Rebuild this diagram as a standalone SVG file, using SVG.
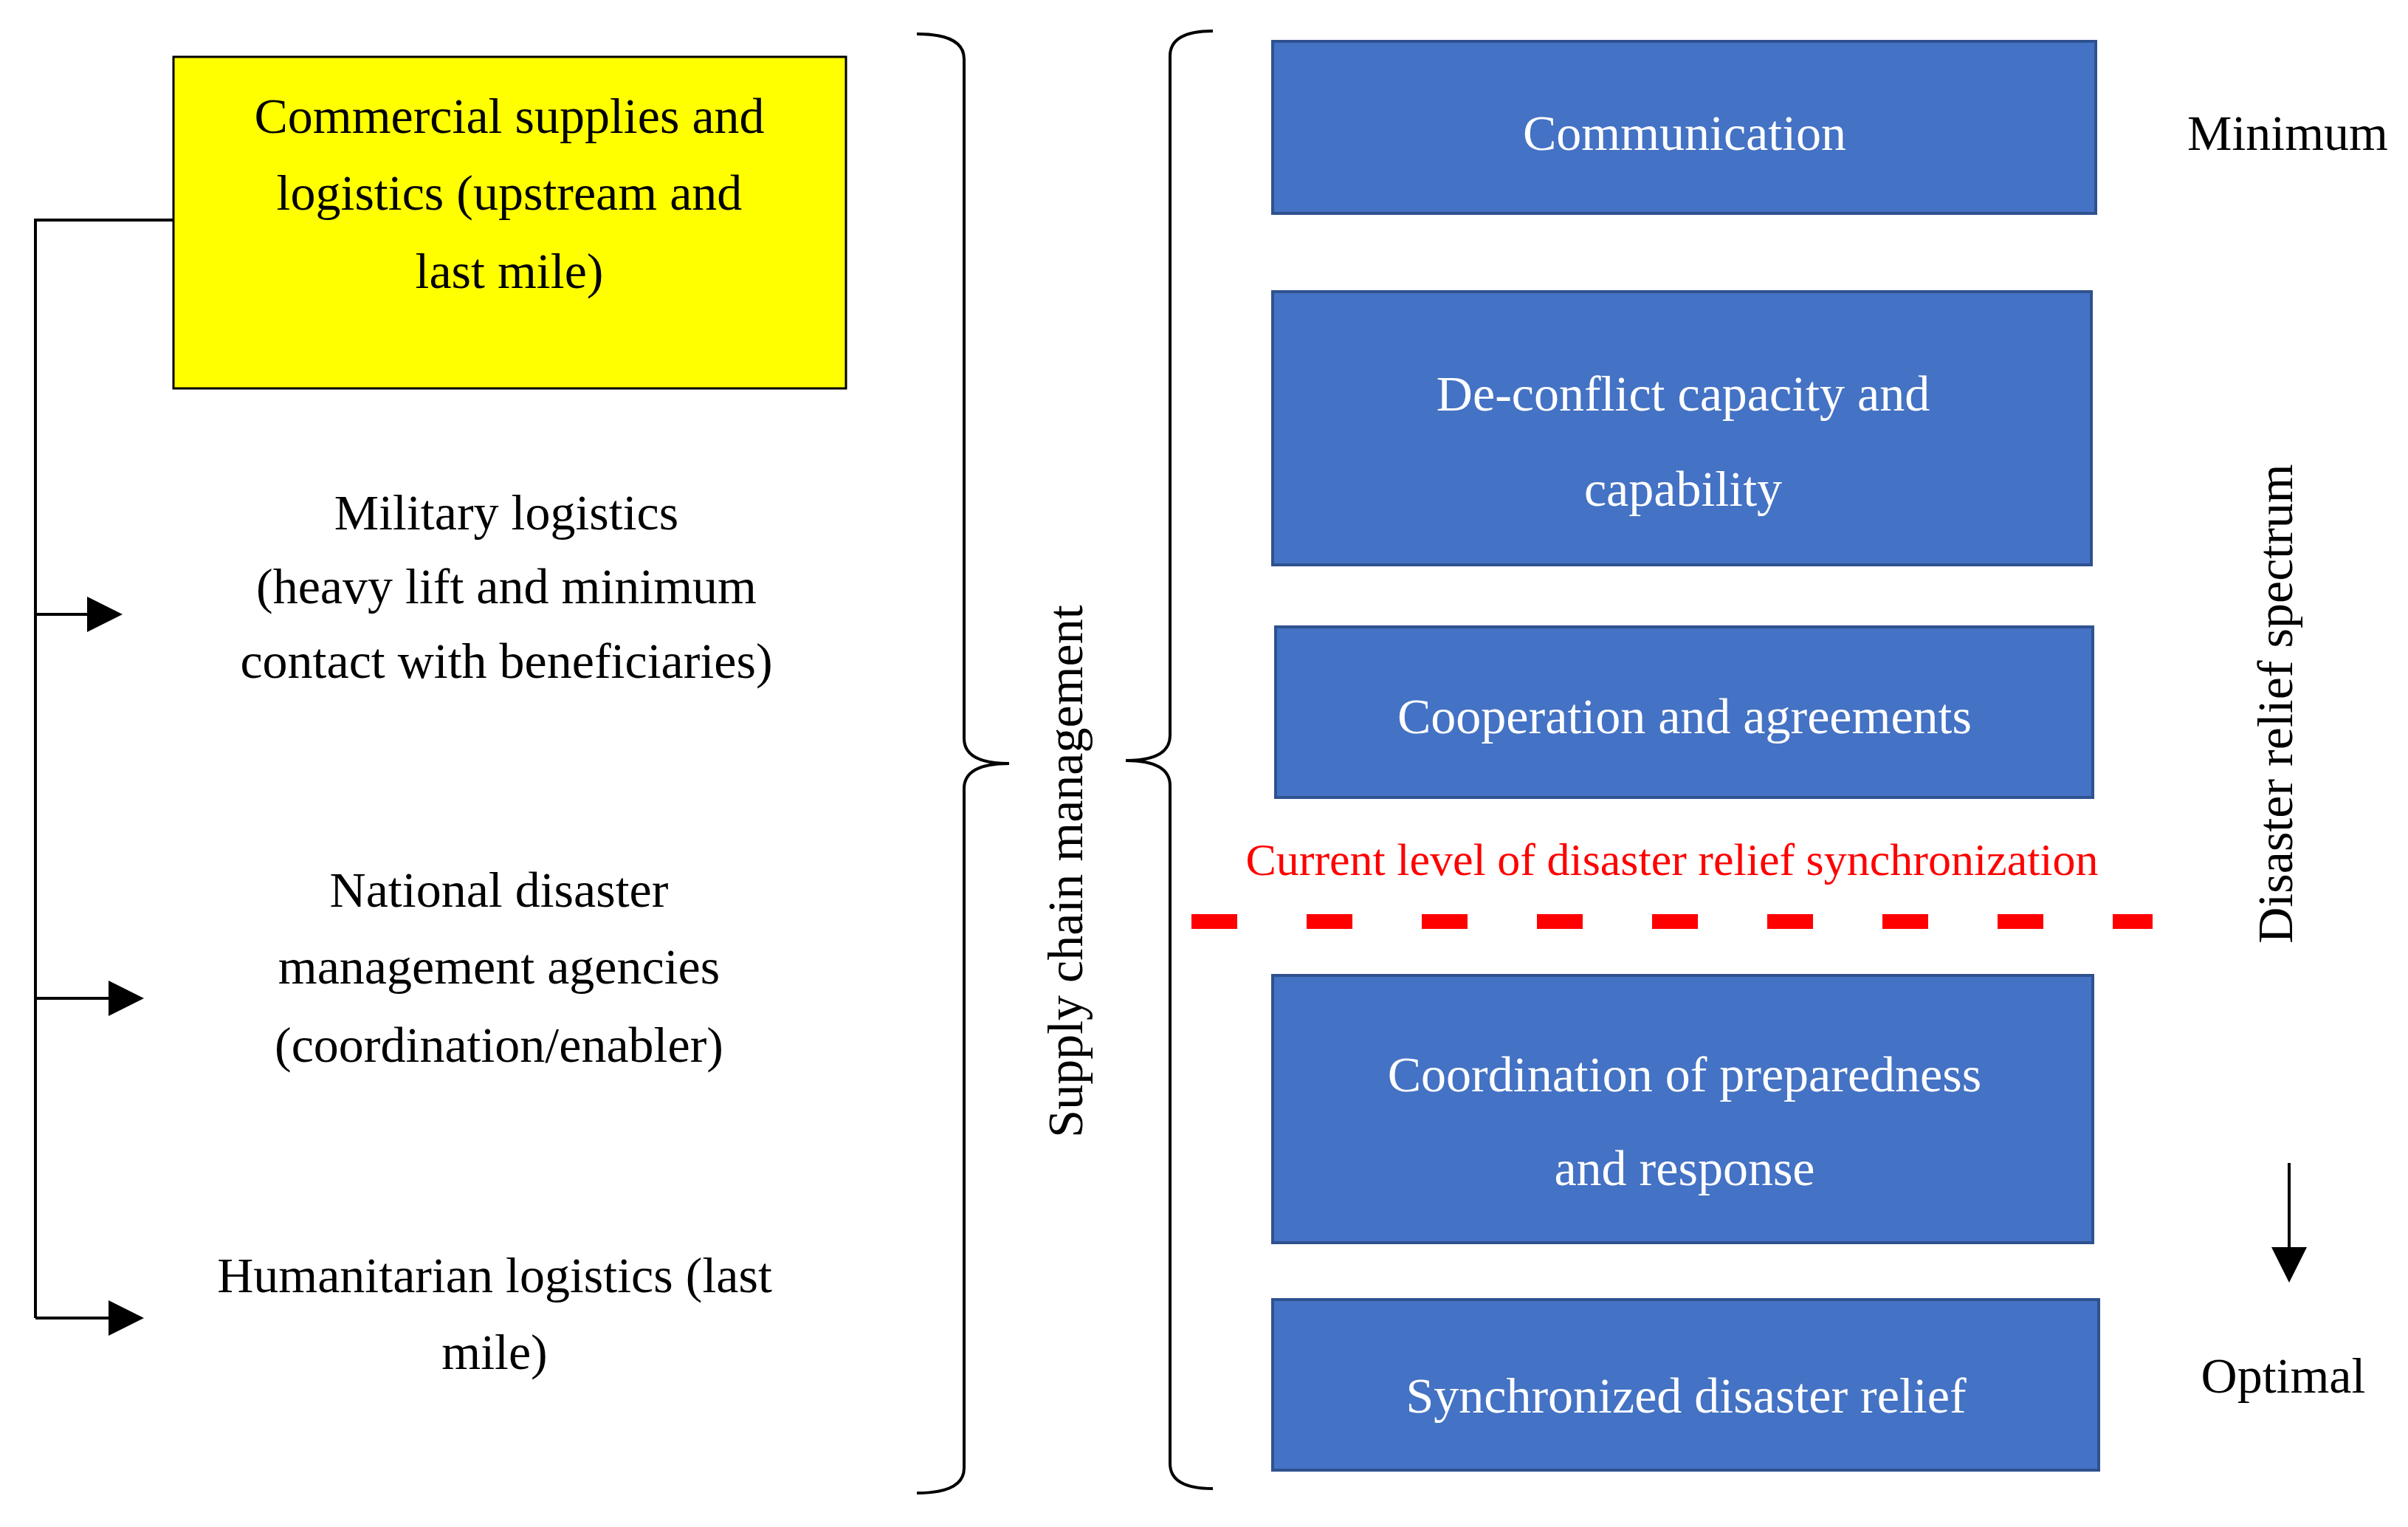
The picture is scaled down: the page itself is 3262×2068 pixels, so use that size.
<svg xmlns="http://www.w3.org/2000/svg" width="3262" height="2068" viewBox="0 0 3262 2068">
<style>
text{font-family:"Liberation Serif","Times New Roman",serif;font-size:68px;text-anchor:middle;fill:#000}
.w{fill:#fff}
.b{fill:#4472C4;stroke:#2F528F;stroke-width:4}
.l{stroke:#000;stroke-width:4;fill:none}
</style>
<defs><marker id="a" markerWidth="10" markerHeight="10" refX="9" refY="5" orient="auto" markerUnits="userSpaceOnUse" viewBox="0 0 10 10"><path d="M0,0L10,5L0,10z"/></marker></defs>
<rect width="3262" height="2068" fill="#fff"/>
<g id="connectors">
<path class="l" d="M235,298H48V1785"/>
<path class="l" d="M48,832H162" marker-end="url(#a)" style="stroke-width:4"/>
<path class="l" d="M48,1352H191" marker-end="url(#a)"/>
<path class="l" d="M48,1785H191" marker-end="url(#a)"/>
<path class="l" d="M3101,1575V1733" marker-end="url(#a)"/>
</g>
<defs><marker id="b" markerWidth="48" markerHeight="48" refX="44" refY="24" orient="auto" markerUnits="userSpaceOnUse" viewBox="0 0 48 48"><path d="M0,0L48,24L0,48z"/></marker></defs>
<style>#connectors path{marker-end:url(#b)} #connectors path:first-child{marker-end:none}</style>
<g id="commercial"><rect x="235" y="77" width="911" height="449" fill="#FFFF00" stroke="#000" stroke-width="3"/>
<text x="690" y="180">Commercial supplies and</text><text x="690" y="284">logistics (upstream and</text><text x="690" y="390">last mile)</text></g>
<g id="military"><text x="686" y="717">Military logistics</text><text x="686" y="817">(heavy lift and minimum</text><text x="686" y="918">contact with beneficiaries)</text></g>
<g id="national"><text x="676" y="1228">National disaster</text><text x="676" y="1332">management agencies</text><text x="676" y="1438">(coordination/enabler)</text></g>
<g id="humanitarian"><text x="670" y="1750">Humanitarian logistics (last</text><text x="670" y="1854">mile)</text></g>
<g id="brace-left"><path class="l" d="M1242,46Q1306,46 1306,80V1000Q1306,1034 1367,1034Q1306,1034 1306,1068V1988Q1306,2022 1242,2022"/></g>
<g id="scm"><text transform="translate(1466,1180) rotate(-90)">Supply chain management</text></g>
<g id="brace-right"><path class="l" d="M1643,42Q1585,42 1585,76V996Q1585,1030 1525,1030Q1585,1030 1585,1064V1982Q1585,2016 1643,2016"/></g>
<g id="communication"><rect class="b" x="1724" y="56" width="1115" height="233"/><text class="w" x="2282" y="203">Communication</text></g>
<g id="deconflict"><rect class="b" x="1724" y="395" width="1109" height="370"/><text class="w" x="2280" y="556">De-conflict capacity and</text><text class="w" x="2280" y="685">capability</text></g>
<g id="cooperation"><rect class="b" x="1728" y="849" width="1107" height="231"/><text class="w" x="2282" y="993">Cooperation and agreements</text></g>
<g id="current"><text x="2265" y="1185" style="fill:#FF0000;font-size:62px">Current level of disaster relief synchronization</text>
<line x1="1614" y1="1248" x2="2916" y2="1248" stroke="#FF0000" stroke-width="20" stroke-dasharray="62,94"/></g>
<g id="coordination"><rect class="b" x="1724" y="1321" width="1111" height="362"/><text class="w" x="2282" y="1478">Coordination of preparedness</text><text class="w" x="2282" y="1605">and response</text></g>
<g id="synchronized"><rect class="b" x="1724" y="1760" width="1119" height="231"/><text class="w" x="2284" y="1913">Synchronized disaster relief</text></g>
<g id="labels"><text x="3099" y="203">Minimum</text><text x="3093" y="1886">Optimal</text>
<text transform="translate(3105,953) rotate(-90)">Disaster relief spectrum</text></g>
</svg>
